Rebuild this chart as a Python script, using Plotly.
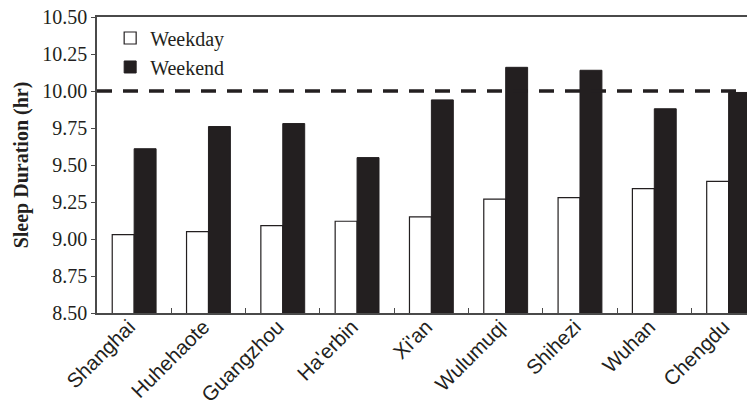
import plotly.graph_objects as go

cities = ["Shanghai", "Huhehaote", "Guangzhou", "Ha'erbin", "Xi'an",
          "Wulumuqi", "Shihezi", "Wuhan", "Chengdu"]
weekday = [9.03, 9.05, 9.09, 9.12, 9.15, 9.27, 9.28, 9.34, 9.39]
weekend = [9.61, 9.76, 9.78, 9.55, 9.94, 10.16, 10.14, 9.88, 9.99]
reference_line = 10.0
y_ticks = [8.50, 8.75, 9.00, 9.25, 9.50, 9.75, 10.00, 10.25, 10.50]

serif = "Liberation Serif, Times New Roman, serif"
sans = "Liberation Sans, Arial, sans-serif"
dark = "#231f20"
axis_col = "#4a4a4a"

fig = go.Figure()
fig.add_trace(go.Bar(x=cities, y=weekday, name="Weekday",
                     marker=dict(color="white", line=dict(color=dark, width=1.2))))
fig.add_trace(go.Bar(x=cities, y=weekend, name="Weekend",
                     marker=dict(color=dark, line=dict(color=dark, width=1))))

fig.add_shape(type="line", xref="paper", yref="y", x0=0, x1=1,
              y0=reference_line, y1=reference_line,
              line=dict(color=dark, width=3.5, dash="15px,11px"))

# the page body has an 8px margin, so the figure is sized and offset for it
fig.update_layout(
    width=747, height=395,
    margin=dict(l=89, r=0, t=9, b=90, autoexpand=False),
    paper_bgcolor="white", plot_bgcolor="white",
    barmode="group", bargap=0.41, bargroupgap=0,
    showlegend=True,
    legend=dict(x=0.02, y=0.995, xanchor="left", yanchor="top",
                font=dict(family=serif, size=20, color=dark),
                bgcolor="rgba(0,0,0,0)", tracegroupgap=0, itemwidth=30),
    xaxis=dict(range=[-0.5, 8.355], showline=True, linecolor=axis_col, linewidth=1.5,
               mirror=True, ticks="inside", tickson="boundaries", ticklen=5,
               tickcolor=axis_col, tickangle=-45, automargin=False,
               ticklabelstandoff=-8, ticklabelshift=-5, ticklabeloverflow="allow",
               tickfont=dict(family=sans, size=20.5, color=dark), showgrid=False),
    yaxis=dict(range=[8.5, 10.5], tickvals=y_ticks,
               ticktext=[f"{v:.2f}" for v in y_ticks],
               showline=True, linecolor=axis_col, linewidth=1.5, mirror=False,
               ticks="outside", ticklen=4, tickcolor=axis_col, automargin=False,
               ticklabeloverflow="allow",
               tickfont=dict(family=serif, size=20, color=dark), showgrid=False,
               zeroline=False,
               title=dict(text="<b>Sleep Duration (hr)</b>", standoff=8,
                          font=dict(family=serif, size=20, color=dark))),
)

fig.write_html("out.html")
